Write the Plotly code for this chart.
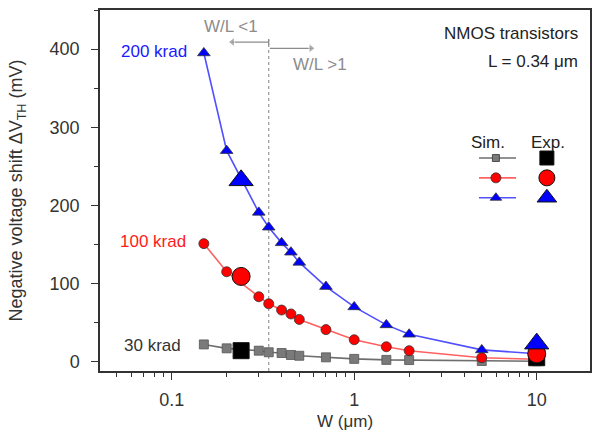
import math
import plotly.graph_objects as go

# ---- data ----
W_sim = [0.15, 0.2, 0.3, 0.34, 0.4, 0.45, 0.5, 0.7, 1.0, 1.5, 2.0, 5.0, 10.0]
sim_30 = [22, 17, 14, 12, 11, 8.5, 7.5, 5.5, 3.5, 2.2, 2.0, 0.8, 0.5]
sim_100 = [151, 115, 83, 74, 66, 61, 54, 41, 28, 19, 14, 5, 3]
sim_200 = [395, 270, 191, 172, 152, 140, 127, 96, 70, 47, 35, 15, 10]

W_exp = [0.24, 10.0]
exp_30 = [14, 5]
exp_100 = [109, 10]
exp_200 = [232, 23]

L_um = 0.34
dose_labels = ["30 krad", "100 krad", "200 krad"]
y_ticks = [0, 100, 200, 300, 400]
x_ticks = [0.1, 1, 10]

FONT = "Liberation Sans, Arial, sans-serif"
GRAY_L, GRAY_M = "#6e6e6e", "#7a7a7a"
RED_L, RED_M = "#ff6060", "#ff0000"
BLUE_L, BLUE_M = "#5050ff", "#0000ff"
ARROW_C = "#8c8c8c"

fig = go.Figure()

# W/L = 1 boundary line
fig.add_trace(go.Scatter(x=[L_um, L_um], y=[-12, 412], mode="lines",
                         line=dict(color="#999999", width=1.2, dash="dot"),
                         hoverinfo="skip", showlegend=False))
# small tick at top of the boundary
fig.add_trace(go.Scatter(x=[L_um, L_um], y=[405, 413], mode="lines",
                         line=dict(color=ARROW_C, width=1.3),
                         hoverinfo="skip", showlegend=False))
# arrows W/L<1 (left) and W/L>1 (right)
fig.add_trace(go.Scatter(x=[L_um, 0.215], y=[409, 409], mode="lines+markers",
                         line=dict(color=ARROW_C, width=1.3),
                         marker=dict(symbol="triangle-left", size=[0, 8], color=ARROW_C),
                         hoverinfo="skip", showlegend=False))
fig.add_trace(go.Scatter(x=[0.345, 0.58], y=[401, 401], mode="lines+markers",
                         line=dict(color=ARROW_C, width=1.3),
                         marker=dict(symbol="triangle-right", size=[0, 8], color=ARROW_C),
                         hoverinfo="skip", showlegend=False))

def sim_trace(y, lc, mc, sym, size):
    return go.Scatter(x=W_sim, y=y, mode="lines+markers",
                      line=dict(color=lc, width=1.6),
                      marker=dict(symbol=sym, size=size, color=mc,
                                  line=dict(color="#333333" if mc != GRAY_M else "#555555", width=0.8)),
                      showlegend=False)

def exp_trace(y, mc, sym, size):
    return go.Scatter(x=W_exp, y=y, mode="markers",
                      marker=dict(symbol=sym, size=size, color=mc,
                                  line=dict(color="#111111", width=1)),
                      showlegend=False)

fig.add_trace(sim_trace(sim_30, GRAY_L, GRAY_M, "square", 9))
fig.add_trace(sim_trace(sim_100, RED_L, RED_M, "circle", 10))
fig.add_trace(sim_trace(sim_200, BLUE_L, BLUE_M, "triangle-up", 11))
fig.add_trace(exp_trace(exp_30, "#000000", "square", 16))
fig.add_trace(exp_trace(exp_100, RED_M, "circle", 18))
fig.add_trace(exp_trace(exp_200, BLUE_M, "triangle-up", 21))

# ---- legend drawn on overlay axes ----
leg_rows = [0.590, 0.535, 0.480]
leg_cols = [(GRAY_L, GRAY_M, "square", 7, "#000000", 14),
            (RED_L, RED_M, "circle", 10, RED_M, 16),
            (BLUE_L, BLUE_M, "triangle-up", 10, BLUE_M, 17)]
for yv, (lc, mc, sym, s1, ec, s2) in zip(leg_rows, leg_cols):
    fig.add_trace(go.Scatter(x=[0.7735, 0.808, 0.849], y=[yv, yv, yv], xaxis="x2", yaxis="y2",
                             mode="lines", line=dict(color=lc, width=1.6),
                             showlegend=False, hoverinfo="skip"))
    fig.add_trace(go.Scatter(x=[0.808], y=[yv], xaxis="x2", yaxis="y2", mode="markers",
                             marker=dict(symbol=sym, size=s1, color=mc,
                                         line=dict(color="#333333", width=0.8)),
                             showlegend=False, hoverinfo="skip"))
    fig.add_trace(go.Scatter(x=[0.912], y=[yv], xaxis="x2", yaxis="y2", mode="markers",
                             marker=dict(symbol=sym, size=s2, color=ec,
                                         line=dict(color="#111111", width=1)),
                             showlegend=False, hoverinfo="skip"))

def ann(text, x, y, color, xanchor="center", size=17, yanchor="middle"):
    fig.add_annotation(text=text, x=x, y=y, xref="paper", yref="paper",
                       xanchor=xanchor, yanchor=yanchor, showarrow=False,
                       font=dict(family=FONT, size=size, color=color))

ann(dose_labels[2], 0.182, 0.886, "#1a1aff", "right")
ann(dose_labels[1], 0.180, 0.359, "#ff1a1a", "right")
ann(dose_labels[0], 0.170, 0.070, "#333333", "right")
ann("W/L &lt;1", 0.268, 0.953, ARROW_C)
ann("W/L &gt;1", 0.448, 0.848, ARROW_C)
ann("NMOS transistors", 0.980, 0.936, "#222222", "right")
ann("L = 0.34 μm", 0.980, 0.856, "#222222", "right")
ann("Sim.", 0.791, 0.632, "#222222")
ann("Exp.", 0.914, 0.632, "#222222")
# x-axis title, kept fully inside the page
ann("W (μm)", 0.5, -0.1725, "#333333", "center", size=17, yanchor="bottom")

axis_common = dict(showline=True, linecolor="#333333", linewidth=1.5, mirror=True,
                   ticks="outside", tickcolor="#333333", ticklen=7, tickwidth=1.3,
                   showgrid=False, zeroline=False, automargin=False,
                   tickfont=dict(family=FONT, size=18, color="#333333"))

fig.update_layout(
    width=592, height=434,
    margin=dict(l=100, r=2, t=10, b=63),
    paper_bgcolor="white", plot_bgcolor="white",
    font=dict(family=FONT, color="#333333"),
    xaxis=dict(type="log", range=[-1.393, 1.292], tickvals=x_ticks,
               ticktext=["0.1", "1", "10"],
               minor=dict(ticks="outside", ticklen=4, tickcolor="#333333",
                          tickvals=[v * m for m in (0.01, 0.1, 1, 10) for v in range(2, 10)]),
               ticklabelstandoff=5,
               **axis_common),
    yaxis=dict(range=[-12, 450], tickvals=y_ticks,
               minor=dict(ticks="outside", ticklen=4, tickcolor="#333333",
                          tickvals=[50, 150, 250, 350, 450]),
               title=dict(text="Negative voltage shift ΔV<sub>TH</sub> (mV)",
                          font=dict(family=FONT, size=18, color="#333333"), standoff=22),
               ticklabelstandoff=8,
               **axis_common),
    xaxis2=dict(overlaying="x", range=[0, 1], visible=False, fixedrange=True),
    yaxis2=dict(overlaying="y", range=[0, 1], visible=False, fixedrange=True),
)

fig.write_html("out.html")
